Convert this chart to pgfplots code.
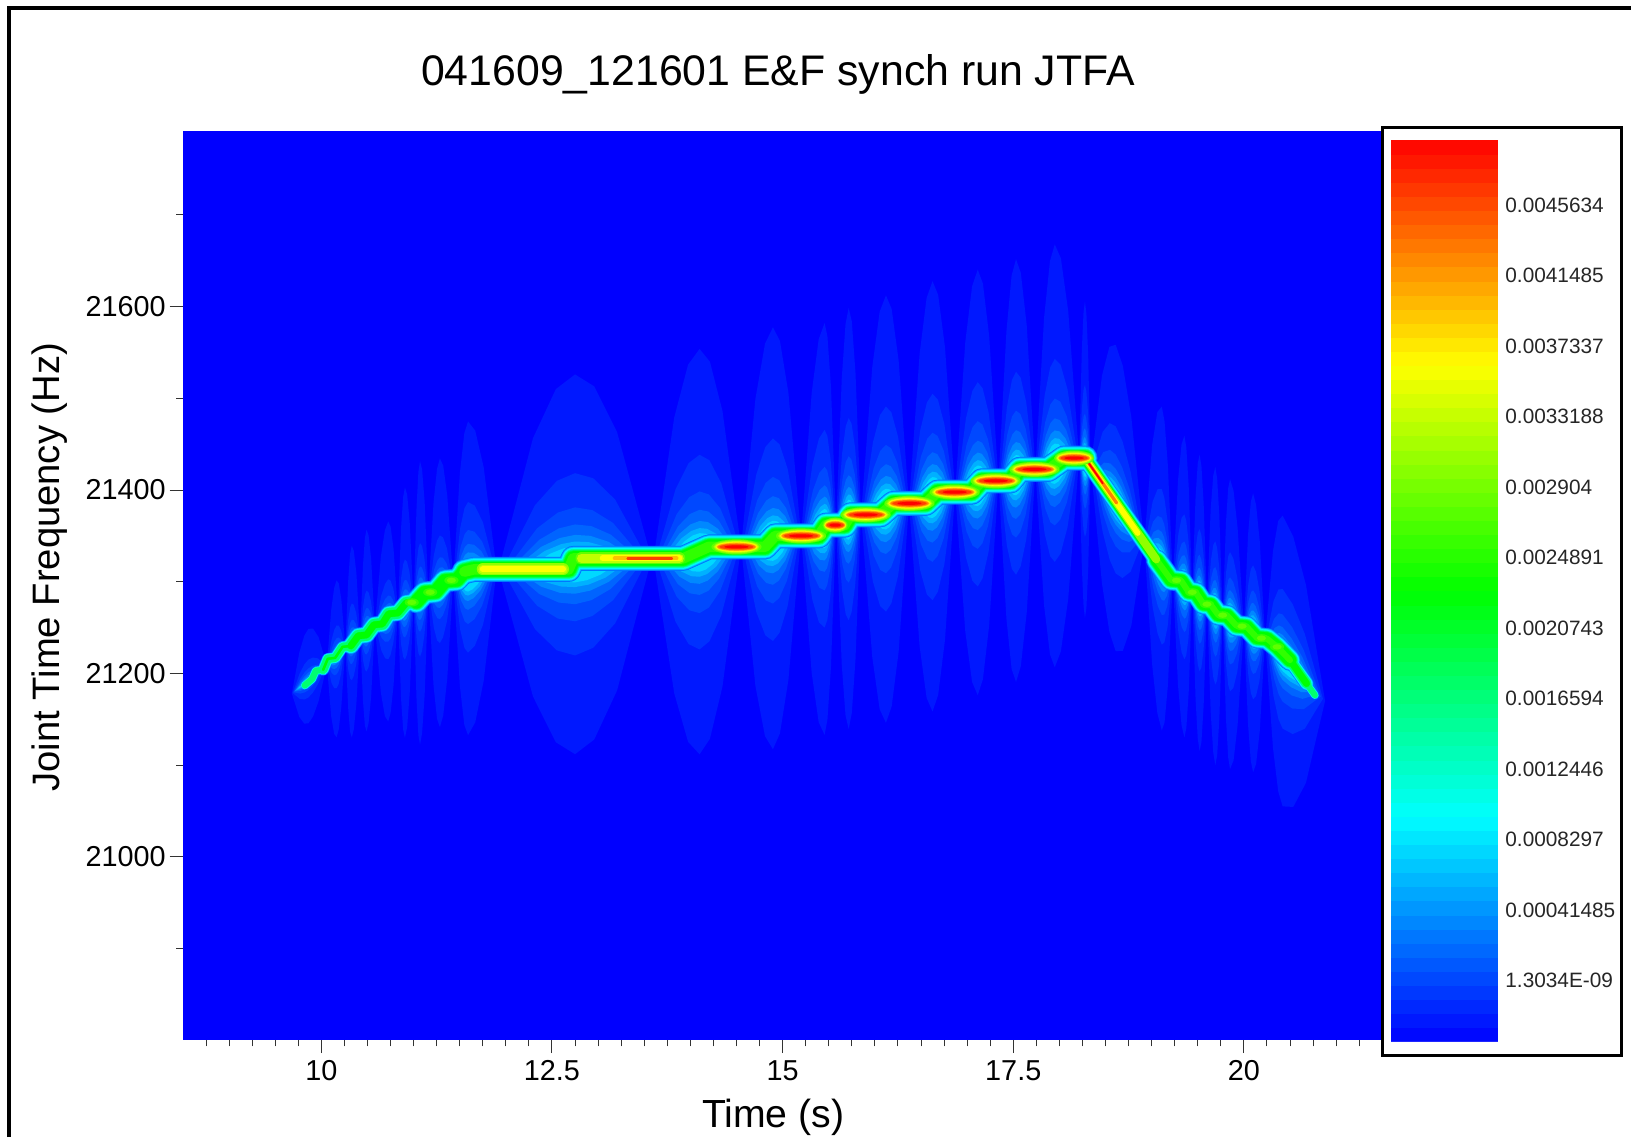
\documentclass[border=0pt]{standalone}
\usepackage{pgfplots}
\pgfplotsset{compat=1.18}
\usepackage{pgfplotstable}
\usepackage{fontspec}
\setmainfont{Liberation Sans}
% ---- colours of the map
\definecolor{L1}{HTML}{0018FF}\definecolor{L2}{HTML}{0030FF}\definecolor{L3}{HTML}{0048FF}
\definecolor{L4}{HTML}{0064FF}\definecolor{L5}{HTML}{0088FF}\definecolor{L6}{HTML}{00B0FF}
\definecolor{L7}{HTML}{00D8FF}
\definecolor{B1}{HTML}{0070FF}\definecolor{B2}{HTML}{00A8FF}\definecolor{B3}{HTML}{00E0FF}
\definecolor{B4}{HTML}{00FFFF}\definecolor{B5}{HTML}{00FFB0}\definecolor{B6}{HTML}{00FF70}
\definecolor{B7}{HTML}{00FF30}\definecolor{B8}{HTML}{00FF00}\definecolor{B9}{HTML}{30FF00}
\definecolor{Y1}{HTML}{60FF00}\definecolor{Y2}{HTML}{90FF00}\definecolor{Y3}{HTML}{C0FF00}
\definecolor{Y4}{HTML}{FFFF00}\definecolor{R1}{HTML}{FFC000}\definecolor{R2}{HTML}{FF8000}
\definecolor{R3}{HTML}{FF4000}\definecolor{R4}{HTML}{FF0000}
% ---- ridge of the map: time (s), frequency (Hz)
\pgfplotstableread{
t f
9.82 21187
9.90 21194
9.94 21203
10.02 21204
}\riseO
\pgfplotstableread{
t f
10.02 21204
10.07 21216
10.15 21217
10.23 21229
10.32 21230
}\riseA
\pgfplotstableread{
t f
10.32 21230
10.40 21241
10.49 21242
10.57 21253
10.66 21254
10.73 21265
10.83 21266
10.92 21277
11.03 21278
}\riseB
\pgfplotstableread{
t f
11.03 21278
11.12 21288
11.24 21289
11.34 21301
11.47 21302
11.55 21311
}\riseC
\pgfplotstableread{
t f
11.55 21311
11.65 21313.4
12.68 21313.4
12.73 21325.4
13.92 21325.4
14.20 21338
14.81 21338
14.92 21350
15.39 21350
15.47 21361.7
15.67 21361.7
15.74 21373
16.06 21373
16.20 21385.4
16.55 21385.4
16.68 21397.7
17.05 21397.7
17.16 21410
17.47 21410
17.57 21422.5
17.88 21422.5
18.05 21434.8
18.278 21434.8
}\mainR
\pgfplotstableread{
t f
18.278 21434.8
19.055 21323.6
}\descA
\pgfplotstableread{
t f
19.055 21323.6
19.21 21302
19.32 21301
19.40 21289
19.48 21288
19.56 21276
19.64 21275
19.72 21264
19.82 21263
19.92 21252
20.03 21251
20.14 21239
20.25 21238
20.36 21229
20.50 21214.5
}\descB
\pgfplotstableread{
t f
20.50 21214.5
20.68 21189
}\tailR
\pgfplotstableread{
t f
20.68 21189
20.77 21176.3
}\tailS
\pgfplotstableread{
t f
11.75 21313.4
12.62 21313.4
}\plA
\pgfplotstableread{
t f
12.82 21325.4
13.88 21325.4
}\plB
\pgfplotstableread{
t f
13.05 21325.4
13.88 21325.4
}\plBy
\pgfplotstableread{
t f
13.18 21325.4
13.85 21325.4
}\plBo
\pgfplotstableread{
t f
13.32 21325.4
13.80 21325.4
}\plBr
\pgfplotstableread{
t f
18.28 21434.8
19.05 21324.4
}\dcY
\pgfplotstableread{
t f
18.28 21434.8
18.85 21353
}\dcYY
\pgfplotstableread{
t f
18.28 21434.8
18.62 21385.9
}\dcO
\pgfplotstableread{
t f
18.28 21434.8
18.47 21407.3
}\dcR
\pgfplotstableread{
t f
14.50 21338
15.20 21350
15.90 21373
16.375 21385.4
16.865 21397.7
17.31 21410
17.73 21422.5
}\blobs
\pgfplotstableread{
t f
15.57 21361.7
}\blobE
\pgfplotstableread{
t f
18.16 21434.8
}\blobK
\pgfplotstableread{
t f
10.98 21277.5
11.18 21288.5
11.41 21301.5
19.27 21301.5
19.44 21288.5
19.60 21275.5
19.77 21263.5
19.98 21251.5
20.19 21238.5
20.36 21229
}\spots
% ---- helpers
\newcommand\LP[4]{(\fpeval{round(\LTc+(#1)*\xs*(#2),3)},\fpeval{round(\LFl+(\LFr-\LFl)*(\LTc+(#1)*\xs*(#2)-\LTl)/(\LTr-\LTl)+(#3)*\hs*(#4),2)})}
\newcommand\lobe[8]{%
 \def\LTl{#2}\def\LTc{#3}\def\LTr{#4}\def\LFl{#5}\def\LFr{#6}%
 \def\WL{(\LTc-\LTl)}\def\WR{(\LTr-\LTc)}%
 \edef\tmpplot{\noexpand\addplot[fill=#1,draw=none,forget plot] coordinates {%
  \LP{-1}{\WL}{0}{#7}\LP{-.8}{\WL}{.3}{#7}\LP{-.55}{\WL}{.68}{#7}\LP{-.25}{\WL}{.93}{#7}\LP{0}{\WL}{1}{#7}%
  \LP{.25}{\WR}{.93}{#7}\LP{.55}{\WR}{.68}{#7}\LP{.8}{\WR}{.3}{#7}\LP{1}{\WR}{0}{#7}%
  \LP{.8}{\WR}{-.3}{#8}\LP{.55}{\WR}{-.68}{#8}\LP{.25}{\WR}{-.93}{#8}\LP{0}{\WR}{-1}{#8}%
  \LP{-.25}{\WL}{-.93}{#8}\LP{-.55}{\WL}{-.68}{#8}\LP{-.8}{\WL}{-.3}{#8}}}%
 \tmpplot;%
}
\newcommand\AllLobes[1]{%
 \let\hsSave\hs\let\hs\hsR
 \lobe{#1}{9.68}{9.86}{10.06}{21178}{21209}{56}{47}%
 \lobe{#1}{10.06}{10.165}{10.26}{21209}{21229}{82}{89}%
 \lobe{#1}{10.26}{10.33}{10.42}{21229}{21241}{105}{104}%
 \lobe{#1}{10.42}{10.49}{10.58}{21241}{21252}{111}{109}%
 \lobe{#1}{10.58}{10.725}{10.83}{21252}{21267}{105}{113}%
 \lobe{#1}{10.83}{10.906}{11.0}{21267}{21278}{131}{142}%
 \lobe{#1}{11.0}{11.07}{11.16}{21278}{21288}{149}{160}%
 \lobe{#1}{11.16}{11.285}{11.43}{21288}{21302}{140}{153}%
 \let\hs\hsSave
 \lobe{#1}{11.43}{11.59}{11.90}{21302}{21313}{169}{173}%
 \lobe{#1}{11.92}{12.75}{13.58}{21313}{21325}{207}{207}%
 \lobe{#1}{13.60}{14.10}{14.55}{21325}{21338}{222}{220}%
 \lobe{#1}{14.55}{14.895}{15.20}{21338}{21350}{233}{227}%
 \lobe{#1}{15.20}{15.455}{15.58}{21350}{21362}{224}{225}%
 \lobe{#1}{15.58}{15.716}{15.85}{21362}{21373}{231}{228}%
 \lobe{#1}{15.85}{16.12}{16.37}{21373}{21385}{233}{233}%
 \lobe{#1}{16.37}{16.625}{16.87}{21385}{21398}{236}{233}%
 \lobe{#1}{16.87}{17.115}{17.34}{21398}{21410}{236}{228}%
 \lobe{#1}{17.34}{17.53}{17.74}{21410}{21422}{236}{225}%
 \lobe{#1}{17.74}{17.95}{18.215}{21422}{21435}{240}{221}%
 \lobe{#1}{18.215}{18.277}{18.34}{21435}{21426}{175}{170}%
 \lobe{#1}{18.34}{18.61}{18.92}{21426}{21343}{171}{163}%
 \lobe{#1}{18.92}{19.11}{19.23}{21343}{21302}{173}{180}%
 \lobe{#1}{19.23}{19.355}{19.44}{21302}{21289}{165}{164}%
 \lobe{#1}{19.44}{19.52}{19.60}{21289}{21276}{156}{167}%
 \lobe{#1}{19.60}{19.69}{19.77}{21276}{21263}{156}{169}%
 \lobe{#1}{19.77}{19.85}{20.00}{21263}{21251}{153}{163}%
 \lobe{#1}{20.00}{20.10}{20.23}{21251}{21238}{151}{153}%
 \lobe{#1}{20.23}{20.42}{20.88}{21238}{21170}{154}{163}%
}
\newcommand\Lvl[4]{\def\hs{#1}\def\hsR{#4}\def\xs{#2}\AllLobes{#3}}
\newcommand\Sec[4]{\addplot[draw=#4,line width=\fpeval{#2*#3*.5}pt,line join=round,line cap=round] table {#1};}
\newcommand\Band[2]{%
 \Sec{\riseO}{.34}{#1}{#2}\Sec{\riseA}{.46}{#1}{#2}\Sec{\riseB}{.66}{#1}{#2}\Sec{\riseC}{.9}{#1}{#2}%
 \Sec{\mainR}{1}{#1}{#2}\Sec{\descA}{.66}{#1}{#2}\Sec{\descB}{.85}{#1}{#2}\Sec{\tailR}{.55}{#1}{#2}\Sec{\tailS}{.32}{#1}{#2}}
\newcommand\BandI[2]{%
 \Sec{\riseA}{.16}{#1}{#2}\Sec{\riseB}{.45}{#1}{#2}\Sec{\riseC}{.9}{#1}{#2}%
 \Sec{\mainR}{1}{#1}{#2}\Sec{\descA}{.66}{#1}{#2}\Sec{\descB}{.85}{#1}{#2}\Sec{\tailR}{.45}{#1}{#2}}
\newcommand\Blob[4]{\addplot[only marks,mark=*,mark size=\fpeval{#3*.5}pt,mark options={xscale=\fpeval{#2/#3},draw=#4,fill=#4,line width=0.01pt}] table {#1};}
\newcommand\BlobSet[2]{%
 \Blob{#1}{\fpeval{25*#2}}{7.5}{Y1}\Blob{#1}{\fpeval{23*#2}}{6.6}{Y2}\Blob{#1}{\fpeval{22*#2}}{5.8}{Y3}%
 \Blob{#1}{\fpeval{21*#2}}{5}{Y4}\Blob{#1}{\fpeval{20*#2}}{4.2}{R1}\Blob{#1}{\fpeval{19*#2}}{3.4}{R2}%
 \Blob{#1}{\fpeval{17*#2}}{2.6}{R3}\Blob{#1}{\fpeval{12*#2}}{1.5}{R4}}
\begin{document}
\begin{tikzpicture}[x=.5pt,y=.5pt]
\useasboundingbox (0,0) rectangle (1631,1137);
\draw[line width=2pt,black] (9,0)--(9,1129)--(1631,1129);
\begin{axis}[
  at={(91.25pt,48.5pt)},anchor=south west,scale only axis,
  width=600.25pt,height=454.5pt,
  xmin=8.495,xmax=21.508,ymin=20800.4,ymax=21791.4,
  axis background/.style={fill=blue},
  axis line style={draw=none},
  tick pos=left,tick align=outside,
  xtick={10,12.5,15,17.5,20},
  ytick={21000,21200,21400,21600},
  minor xtick={8.75,9,9.25,9.5,9.75,10.25,10.5,10.75,11,11.25,11.5,11.75,12,12.25,12.75,13,13.25,13.5,13.75,14,14.25,14.5,14.75,15.25,15.5,15.75,16,16.25,16.5,16.75,17,17.25,17.75,18,18.25,18.5,18.75,19,19.25,19.5,19.75,20.25,20.5,20.75,21,21.25},
  minor ytick={20900,21100,21300,21500,21700},
  major tick length=6.5pt,minor tick length=3.2pt,
  tick style={color=black!80,line width=.5pt},
  scaled y ticks=false,scaled x ticks=false,
  /pgf/number format/assume math mode=true,
  /pgf/number format/fixed,
  /pgf/number format/1000 sep={},
  ticklabel style={font=\fontsize{14.4}{16}\selectfont,inner sep=0pt},
  xticklabel shift=3.5pt,yticklabel shift=1.75pt,
  title={041609\_121601 E\&F synch run JTFA},
  title style={at={(axis description cs:.496,1.0485)},anchor=center,font=\fontsize{21.4}{24}\selectfont,inner sep=0pt},
  xlabel={Time (s)},
  xlabel style={at={(axis description cs:.492,-.0849)},anchor=center,font=\fontsize{19.6}{22}\selectfont,inner sep=0pt},
  ylabel={Joint Time Frequency (Hz)},
  ylabel style={at={(axis description cs:-.1105,.52)},anchor=center,font=\fontsize{19.1}{22}\selectfont,inner sep=0pt},
]
% side lobes, contour by contour
\Lvl{1}{1}{L1}{1}
\Lvl{.48}{.95}{L2}{.40}
\Lvl{.30}{.9}{L3}{.23}
\Lvl{.21}{.85}{L4}{.15}
\Lvl{.155}{.8}{L5}{.10}
\Lvl{.12}{.72}{L6}{.07}
\Lvl{.095}{.6}{L7}{.04}
% the ridge, contour by contour
\Band{25}{B1}\Band{23.5}{B2}\Band{22}{B3}\Band{20.5}{B4}\Band{19}{B5}\Band{17.5}{B6}
\BandI{16}{B7}\BandI{14.5}{B8}
\Sec{\mainR}{1}{10.5}{B9}\Sec{\descB}{.85}{7}{B9}
\Blob{\spots}{7}{4}{B9}\Blob{\spots}{4.5}{2.6}{Y1}
% long plateaus
\Sec{\plA}{1}{12}{Y2}\Sec{\plA}{1}{9}{Y3}\Sec{\plA}{1}{6}{Y4}
\Sec{\plB}{1}{12}{Y1}\Sec{\plB}{1}{9}{Y3}\Sec{\plBy}{1}{6}{Y4}\Sec{\plBo}{1}{4}{R1}\Sec{\plBr}{1}{2.4}{R3}
% descending line
\Sec{\dcY}{1}{8}{Y2}\Sec{\dcYY}{1}{5.5}{Y4}\Sec{\dcO}{1}{3.2}{R2}\Sec{\dcR}{1}{1.8}{R4}
% plateau maxima
\BlobSet{\blobs}{1}
\BlobSet{\blobE}{.5}
\BlobSet{\blobK}{.8}
\end{axis}
\draw[line width=1.5pt,black,fill=white] (1382,82)--(1382,1009)--(1621,1009)--(1621,82)--cycle;
\begin{axis}[
  at={(695.5pt,47.65pt)},anchor=south west,scale only axis,
  width=53.5pt,height=450.85pt,hide axis,xmin=0,xmax=1,ymin=0,ymax=1,
  colormap={jetband}{rgb255=(0,0,255) rgb255=(0,255,255) rgb255=(0,255,0) rgb255=(255,255,0) rgb255=(255,0,0)},
  point meta min=-0.000359,point meta max=0.004947,
  colorbar sampled,
  colorbar shift/.style={xshift=0pt},
  colorbar style={
    samples=65,
    at={(parent axis.south west)},anchor=south west,
    scale only axis,width=53.5pt,height=450.85pt,
    axis line style={draw=none},
    major tick length=0pt,
    scaled y ticks=false,
    ytick={1.3034e-9,0.00041485,0.0008297,0.0012446,0.0016594,0.0020743,0.0024891,0.002904,0.0033188,0.0037337,0.0041485,0.0045634},
    yticklabels={1.3034E-09,0.00041485,0.0008297,0.0012446,0.0016594,0.0020743,0.0024891,0.002904,0.0033188,0.0037337,0.0041485,0.0045634},
    yticklabel style={font=\fontsize{10.4}{12}\selectfont,anchor=west,inner sep=0pt,xshift=3.5pt,text=black!85},
    yticklabel pos=right,
  },
]
\addplot[draw=none] coordinates {(0,0)(1,1)};
\end{axis}
\end{tikzpicture}
\end{document}
